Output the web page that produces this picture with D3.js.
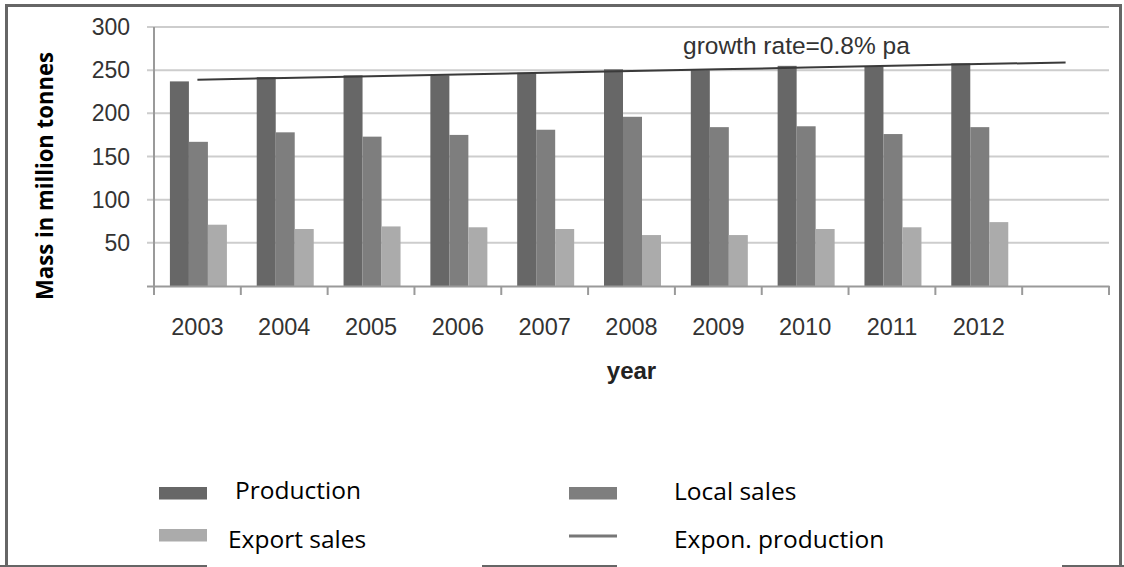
<!DOCTYPE html>
<html>
<head>
<meta charset="utf-8">
<script src="https://cdn.jsdelivr.net/npm/d3@7"></script>
<style>
  html, body { margin: 0; padding: 0; background: #fff; }
  svg { display: block; }
</style>
</head>
<body>
<svg id="chart" width="1124" height="567"></svg>
<script>
// data
const years = ["2003", "2004", "2005", "2006", "2007", "2008", "2009", "2010", "2011", "2012"];
const production = [237, 242, 244, 244, 247, 251, 250, 255, 254, 258];
const localSales = [167, 178, 173, 175, 181, 196, 184, 185, 176, 184];
const exportSales = [71, 66, 69, 68, 66, 59, 59, 66, 68, 74];
// exponential trend line, one point per category incl. the empty one at the end
const trendValues = [239, 241, 243, 245, 247, 249, 251, 253, 255, 257, 259];
const yTicks = [50, 100, 150, 200, 250, 300];
const trendLabel = "growth rate=0.8% pa";

const svg = d3.select("#chart"),
      colorProd = "#676767",
      colorLocal = "#7e7e7e",
      colorExport = "#ababab",
      colorGrid = "#cdcdcd",
      colorAxis = "#9a9a9a",
      colorText = "#333",
      tickFont = "'Liberation Sans', Arial, sans-serif",
      legendFont = "'Open Sans', 'Noto Sans', sans-serif";

const categories = years.concat([""]);   // one empty slot on the right

const x = d3.scaleBand()
    .domain(categories)
    .range([154, 1109]);

const y = d3.scaleLinear()
    .domain([0, 300])
    .range([286, 27]);

const series = [
  { key: "prod", values: production, color: colorProd },
  { key: "local", values: localSales, color: colorLocal },
  { key: "export", values: exportSales, color: colorExport }
];

const groupW = 57;
const xInner = d3.scaleBand()
    .domain(series.map(s => s.key))
    .range([x.bandwidth() / 2 - groupW / 2 + 1, x.bandwidth() / 2 + groupW / 2 + 1]);

// frame
const frame = svg.append("g").attr("fill", "none").attr("stroke", "#666");
frame.append("path").attr("stroke-width", 3)
    .attr("d", "M6.5,567 V5.5 H1120.5 V567");
[[0, 207], [482, 617], [1062, 1124]].forEach(function(seg) {
  frame.append("line").attr("stroke-width", 2)
      .attr("x1", seg[0]).attr("x2", seg[1])
      .attr("y1", 566).attr("y2", 566);
});

// gridlines
svg.append("g")
  .selectAll("line")
  .data(yTicks)
  .join("line")
    .attr("x1", x.range()[0] - 7)
    .attr("x2", x.range()[1])
    .attr("y1", d => y(d))
    .attr("y2", d => y(d))
    .attr("stroke", colorGrid)
    .attr("stroke-width", 2);

// bars
const groups = svg.append("g")
  .selectAll("g")
  .data(years)
  .join("g")
    .attr("transform", d => `translate(${x(d)},0)`);

groups.selectAll("rect")
  .data((d, i) => series.map(s => ({ key: s.key, value: s.values[i], color: s.color })))
  .join("rect")
    .attr("x", d => xInner(d.key))
    .attr("width", xInner.bandwidth())
    .attr("y", d => y(d.value))
    .attr("height", d => y(0) - y(d.value))
    .attr("fill", d => d.color);

// axes
const axisX = svg.append("g")
    .attr("transform", `translate(0,${y(0)})`)
    .call(d3.axisBottom(x).tickSize(0).tickFormat(""));
axisX.select(".domain").attr("stroke", colorAxis).attr("stroke-width", 2);
axisX.selectAll(".tick").remove();

// x ticks on band boundaries
svg.append("g")
  .selectAll("line")
  .data(categories.map(c => x(c)).concat([x.range()[1]]))
  .join("line")
    .attr("x1", d => d).attr("x2", d => d)
    .attr("y1", y(0)).attr("y2", y(0) + 9)
    .attr("stroke", colorAxis)
    .attr("stroke-width", 2);

const axisY = svg.append("g")
    .attr("transform", `translate(${x.range()[0]},0)`)
    .call(d3.axisLeft(y).tickValues([0]).tickSize(7).tickFormat(""));
axisY.select(".domain").attr("stroke", colorAxis).attr("stroke-width", 2)
    .attr("d", `M0,${y(300)}V${y(0) + 9}`);
axisY.selectAll(".tick line").attr("stroke", colorAxis).attr("stroke-width", 2);

// y tick labels
svg.append("g")
  .selectAll("text")
  .data(yTicks)
  .join("text")
    .attr("x", 130)
    .attr("y", d => y(d) + 8)
    .attr("text-anchor", "end")
    .attr("font-family", tickFont)
    .attr("font-size", 23)
    .attr("fill", colorText)
    .text(d => d);

// x tick labels
svg.append("g")
  .selectAll("text")
  .data(years)
  .join("text")
    .attr("x", d => x(d) + x.bandwidth() / 2)
    .attr("y", 335)
    .attr("text-anchor", "middle")
    .attr("font-family", tickFont)
    .attr("font-size", 23.5)
    .attr("fill", colorText)
    .text(d => d);

// axis titles
svg.append("text")
    .attr("x", (x.range()[0] + x.range()[1]) / 2)
    .attr("y", 379)
    .attr("text-anchor", "middle")
    .attr("font-family", tickFont)
    .attr("font-weight", "bold")
    .attr("font-size", 24)
    .attr("fill", "#222")
    .text("year");

svg.append("text")
    .attr("transform", "translate(53,176) rotate(-90)")
    .attr("text-anchor", "middle")
    .attr("font-family", legendFont)
    .attr("font-weight", "bold")
    .attr("font-size", 24)
    .attr("textLength", 248)
    .attr("lengthAdjust", "spacingAndGlyphs")
    .attr("fill", "#000")
    .text("Mass in million tonnes");

// trend line
const line = d3.line()
    .x((d, i) => x(categories[i]) + x.bandwidth() / 2)
    .y(d => y(d));

svg.append("path")
    .datum(trendValues)
    .attr("d", line)
    .attr("fill", "none")
    .attr("stroke", "#3a3a3a")
    .attr("stroke-width", 2);

svg.append("text")
    .attr("x", 683)
    .attr("y", 54)
    .attr("font-family", tickFont)
    .attr("font-size", 24.5)
    .attr("fill", colorText)
    .text(trendLabel);

// legend
const legendItems = [
  { label: "Production", type: "rect", color: colorProd, sx: 159, tx: 235, sy: 487, ty: 499 },
  { label: "Local sales", type: "rect", color: colorLocal, sx: 569, tx: 674, sy: 487, ty: 500 },
  { label: "Export sales", type: "rect", color: colorExport, sx: 159, tx: 228, sy: 529, ty: 548 },
  { label: "Expon. production", type: "line", color: "#777", sx: 569, tx: 674, sy: 536, ty: 548 }
];

const legend = svg.append("g");
legendItems.forEach(function(d) {
  if (d.type === "rect") {
    legend.append("rect")
        .attr("x", d.sx).attr("y", d.sy)
        .attr("width", 48).attr("height", 12.5)
        .attr("fill", d.color);
  } else {
    legend.append("line")
        .attr("x1", d.sx).attr("x2", d.sx + 48)
        .attr("y1", d.sy).attr("y2", d.sy)
        .attr("stroke", d.color)
        .attr("stroke-width", 3);
  }
  legend.append("text")
      .attr("x", d.tx)
      .attr("y", d.ty)
      .attr("font-family", legendFont)
      .attr("font-size", 24.5)
      .attr("fill", "#000")
      .text(d.label);
});
</script>
</body>
</html>
